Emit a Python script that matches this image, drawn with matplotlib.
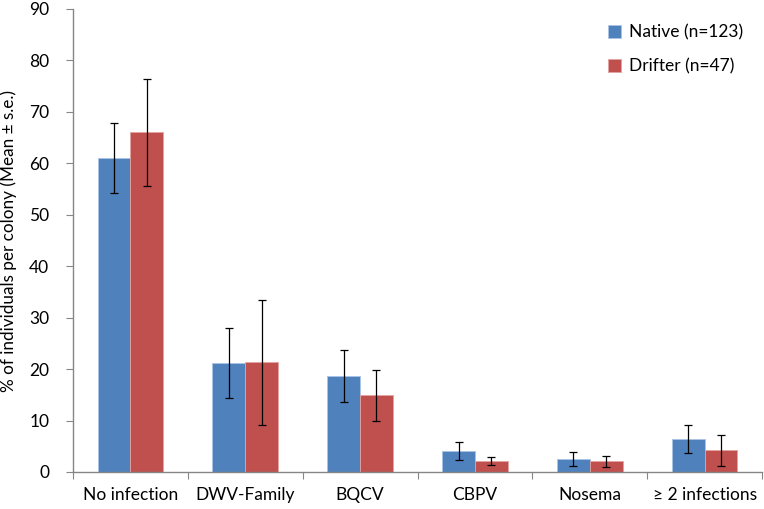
import matplotlib
matplotlib.use("Agg")
import matplotlib.pyplot as plt
import numpy as np

plt.rcParams['font.family'] = ['Lato', 'DejaVu Sans']

categories = ["No infection", "DWV-Family", "BQCV", "CBPV", "Nosema", "\u2265 2 infections"]
native = [61.0, 21.1, 18.7, 4.1, 2.5, 6.4]
native_err = [6.8, 6.8, 5.0, 1.7, 1.3, 2.7]
drifter = [66.0, 21.3, 14.9, 2.1, 2.1, 4.2]
drifter_err = [10.4, 12.2, 4.9, 0.8, 1.1, 3.0]

blue = "#4F81BD"
red = "#C0504D"
axis_col = "#868686"

fig = plt.figure(figsize=(7.64, 5.09), dpi=100)
ax = fig.add_axes([73 / 764, (509 - 472) / 509, 689 / 764, 463 / 509])

x = np.arange(len(categories))
w = 1 / 3.5
ekw = dict(ecolor="black", elinewidth=0.9, capsize=3, capthick=0.9)
ax.bar(x - w / 2, native, w, color=blue, edgecolor="#a9c4e6", linewidth=0.6,
       yerr=native_err, error_kw=ekw, label="Native (n=123)")
ax.bar(x + w / 2, drifter, w, color=red, edgecolor="#e3a3a1", linewidth=0.6,
       yerr=drifter_err, error_kw=ekw, label="Drifter (n=47)")

ax.set_xlim(-0.5, len(categories) - 0.5)
ax.set_ylim(0, 90)
ax.set_yticks(np.arange(0, 91, 10))
ax.set_xticks(np.arange(-0.5, len(categories)), minor=False)
ax.set_xticklabels([])
ax.set_xticks(x, minor=True)
ax.set_xticklabels(categories, minor=True, fontsize=12.5)
ax.tick_params(axis="x", which="minor", length=0, pad=11)
ax.tick_params(axis="x", which="major", length=5, color=axis_col, direction="out")
ax.tick_params(axis="y", length=5, color=axis_col, direction="out", labelsize=12.5, pad=12)

for s in ["top", "right"]:
    ax.spines[s].set_visible(False)
for s in ["left", "bottom"]:
    ax.spines[s].set_color(axis_col)
    ax.spines[s].set_linewidth(1)

ax.set_ylabel("% of individuals per colony (Mean \u00b1 s.e.)", fontsize=12.3)
ax.yaxis.set_label_coords(-0.081, 0.5)

ax.legend(loc="upper right", bbox_to_anchor=(0.995, 1.0), frameon=False, fontsize=12.5,
          handlelength=0.75, handleheight=0.75, handletextpad=0.45, labelspacing=1.0)

fig.savefig("out.png", dpi=100)
